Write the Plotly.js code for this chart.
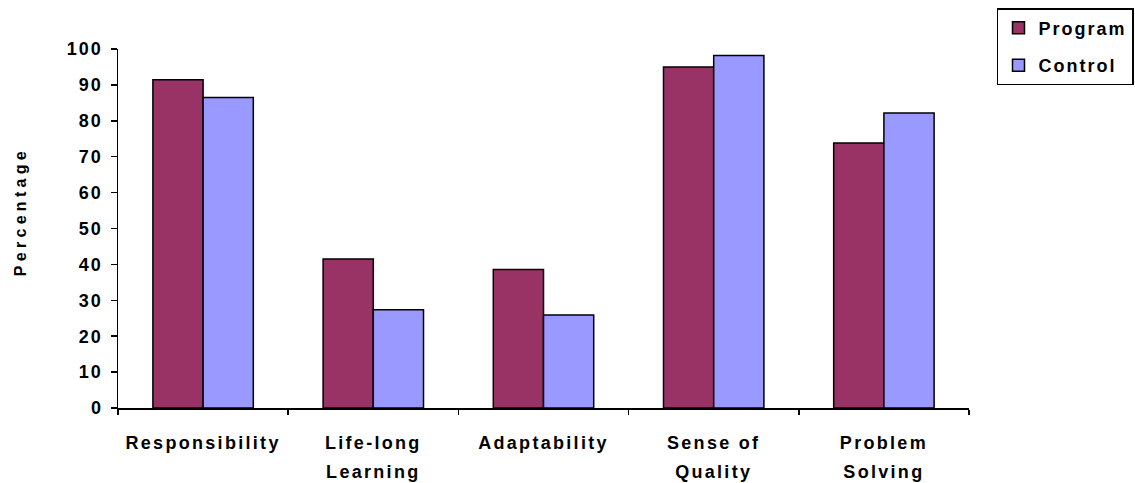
<!DOCTYPE html>
<html>
<head>
<meta charset="utf-8">
<script src="https://cdn.plot.ly/plotly-3.0.1.min.js"></script>
<style>
  html, body { margin: 0; padding: 0; background: #fff; }
  #chart { width: 1135px; height: 483px; }
  .xtick text { letter-spacing: 2.3px; }
  .ytick text { letter-spacing: 2px; }
  .legendtext { letter-spacing: 2px; }
  .annotation-text { letter-spacing: 4.3px; }
</style>
</head>
<body>
<div id="chart"></div>
<script>
const categories = ["Responsibility", "Life-long Learning", "Adaptability", "Sense of Quality", "Problem Solving"];
const tickLabels = [["Responsibility"], ["Life-long", "Learning"], ["Adaptability"], ["Sense of", "Quality"], ["Problem", "Solving"]];
const programValues = [91.4, 41.5, 38.6, 95.0, 73.8];
const controlValues = [86.5, 27.4, 25.9, 98.2, 82.2];
const yTicks = [0, 10, 20, 30, 40, 50, 60, 70, 80, 90, 100];
const yAxisTitle = "Percentage";

const fontFamily = "'Liberation Sans', Arial, sans-serif";
const tickText = tickLabels.map(lines =>
  lines.map(l => "<span style='font-size:18px'>" + l + "</span>").join("<br>"));

const traces = [
  {
    type: "bar", name: "Program", x: categories, y: programValues,
    legendgroup: "p",
    marker: { color: "#993366", line: { color: "#000", width: 1.5 } }
  },
  {
    type: "bar", name: "Control", x: categories, y: controlValues,
    legendgroup: "c",
    marker: { color: "#9999FF", line: { color: "#000", width: 1.5 } }
  }
];

const layout = {
  width: 1135, height: 483,
  margin: { l: 118, r: 166, t: 49, b: 75, autoexpand: false },
  paper_bgcolor: "#fff", plot_bgcolor: "#fff",
  font: { family: fontFamily, color: "#000", size: 18, weight: "bold" },
  barmode: "group", bargap: 0.41, bargroupgap: 0,
  showlegend: true,
  legend: {
    x: 1.0329, xanchor: "left", y: 1.114, yanchor: "top",
    bordercolor: "#000", borderwidth: 1.5, bgcolor: "#fff",
    font: { size: 18, family: fontFamily, weight: "bold", color: "#000" },
    traceorder: "grouped", tracegroupgap: 11, itemwidth: 30
  },
  xaxis: {
    type: "category", range: [-0.5, 4.5], fixedrange: true,
    tickvals: categories, ticktext: tickText,
    showline: true, linecolor: "#000", linewidth: 1.5,
    ticks: "outside", tickson: "boundaries", ticklen: 5, tickwidth: 1.5, tickcolor: "#000",
    ticklabelstandoff: 13,
    tickfont: { size: 22, family: fontFamily, weight: "bold" },
    showgrid: false, zeroline: false
  },
  yaxis: {
    range: [0, 100], tickvals: yTicks, fixedrange: true,
    showline: true, linecolor: "#000", linewidth: 1.5,
    ticks: "outside", ticklen: 6, tickwidth: 1.5, tickcolor: "#000",
    ticklabelstandoff: 4,
    tickfont: { size: 18, family: fontFamily, weight: "bold" },
    showgrid: false, zeroline: false
  },
  annotations: [{
    text: yAxisTitle, textangle: -90, showarrow: false,
    xref: "paper", yref: "paper", x: -0.1152, y: 0.548,
    xanchor: "center", yanchor: "middle",
    font: { size: 16, family: fontFamily, weight: "bold", color: "#000" }
  }]
};

Plotly.newPlot("chart", traces, layout, { displayModeBar: false, staticPlot: true });
</script>
</body>
</html>
